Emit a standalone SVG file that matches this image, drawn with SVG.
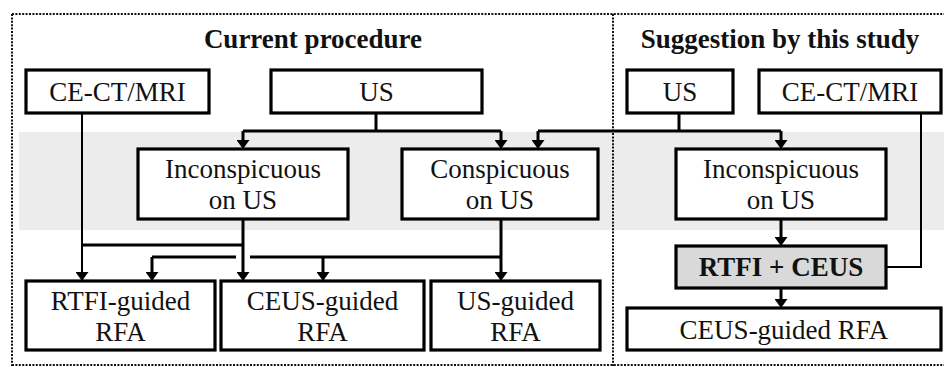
<svg xmlns="http://www.w3.org/2000/svg" width="944" height="367" viewBox="0 0 944 367">
<style>
.box{fill:#fff;stroke:#000;stroke-width:3.2}
.hl{fill:#d9d9d9;stroke:#000;stroke-width:3.2}
.t{font-family:"Liberation Serif","Times New Roman",serif;font-size:27px;fill:#111;text-anchor:middle}
.b{font-weight:bold}
.c{fill:none;stroke:#000;stroke-width:3}
.thin{fill:none;stroke:#000;stroke-width:2}
.dot{fill:none;stroke:#111;stroke-width:2;stroke-dasharray:2 1.4}
</style>
<defs>
<marker id="ah" viewBox="0 0 9 13" refX="5" refY="6.5" markerWidth="9" markerHeight="13" markerUnits="userSpaceOnUse" orient="auto" preserveAspectRatio="none">
<path d="M0,0 L9,6.5 L0,13 z" fill="#000"/>
</marker>
</defs>
<rect width="944" height="367" fill="#fff"/>
<rect x="19" y="132" width="925" height="98" fill="#ececec"/>
<g id="frame">
<path class="dot" d="M12 14 H944 M12 14 V366 M613 14 V366 M12 365 H944"/>
</g>
<g id="titles">
<text class="t b" x="313" y="48">Current procedure</text>
<text class="t b" x="780" y="48">Suggestion by this study</text>
</g>
<g id="connectors">
<path class="thin" d="M82 113 V277" marker-end="url(#ah)"/>
<path class="c" d="M376 113 V131 M243 131 H501"/>
<path class="c" d="M243 131 V145" marker-end="url(#ah)"/>
<path class="c" d="M501 131 V145" marker-end="url(#ah)"/>
<path class="c" d="M679 113 V131 M538 131 H781"/>
<path class="c" d="M538 131 V145" marker-end="url(#ah)"/>
<path class="c" d="M781 131 V145" marker-end="url(#ah)"/>
<path class="c" d="M243 219 V277" marker-end="url(#ah)"/>
<path class="c" d="M82 245 H243"/>
<path class="c" d="M501 219 V277" marker-end="url(#ah)"/>
<path class="c" d="M152 257 H236 M250 257 H501"/>
<path class="c" d="M152 257 V277" marker-end="url(#ah)"/>
<path class="c" d="M323 257 V277" marker-end="url(#ah)"/>
<path class="c" d="M781 219 V242" marker-end="url(#ah)"/>
<path class="c" d="M781 288 V304" marker-end="url(#ah)"/>
<path class="thin" d="M921 113 V267 H886"/>
</g>
<g id="cect-left"><rect class="box" x="26" y="70" width="183" height="43"/><text class="t" x="117.5" y="101">CE-CT/MRI</text></g>
<g id="us-left"><rect class="box" x="271" y="70" width="211" height="43"/><text class="t" x="376.5" y="101">US</text></g>
<g id="incon-left"><rect class="box" x="138" y="149" width="210" height="70"/><text class="t" x="243" y="178">Inconspicuous</text><text class="t" x="243" y="209">on US</text></g>
<g id="consp"><rect class="box" x="402" y="149" width="196" height="70"/><text class="t" x="500" y="178">Conspicuous</text><text class="t" x="500" y="209">on US</text></g>
<g id="rtfi-rfa"><rect class="box" x="26" y="281" width="189" height="69"/><text class="t" x="120.5" y="310">RTFI-guided</text><text class="t" x="120.5" y="341">RFA</text></g>
<g id="ceus-rfa"><rect class="box" x="221" y="281" width="203" height="69"/><text class="t" x="322.5" y="310">CEUS-guided</text><text class="t" x="322.5" y="341">RFA</text></g>
<g id="us-rfa"><rect class="box" x="431" y="281" width="169" height="69"/><text class="t" x="515.5" y="310">US-guided</text><text class="t" x="515.5" y="341">RFA</text></g>
<g id="us-right"><rect class="box" x="627" y="70" width="106" height="43"/><text class="t" x="680" y="101">US</text></g>
<g id="cect-right"><rect class="box" x="759" y="70" width="182" height="43"/><text class="t" x="850" y="101">CE-CT/MRI</text></g>
<g id="incon-right"><rect class="box" x="676" y="149" width="210" height="70"/><text class="t" x="781" y="178">Inconspicuous</text><text class="t" x="781" y="209">on US</text></g>
<g id="rtfi-ceus"><rect class="hl" x="676" y="246" width="210" height="42"/><text class="t b" x="781" y="276">RTFI + CEUS</text></g>
<g id="ceus-rfa-right"><rect class="box" x="627" y="308" width="314" height="42"/><text class="t" x="784" y="339">CEUS-guided RFA</text></g>
</svg>
